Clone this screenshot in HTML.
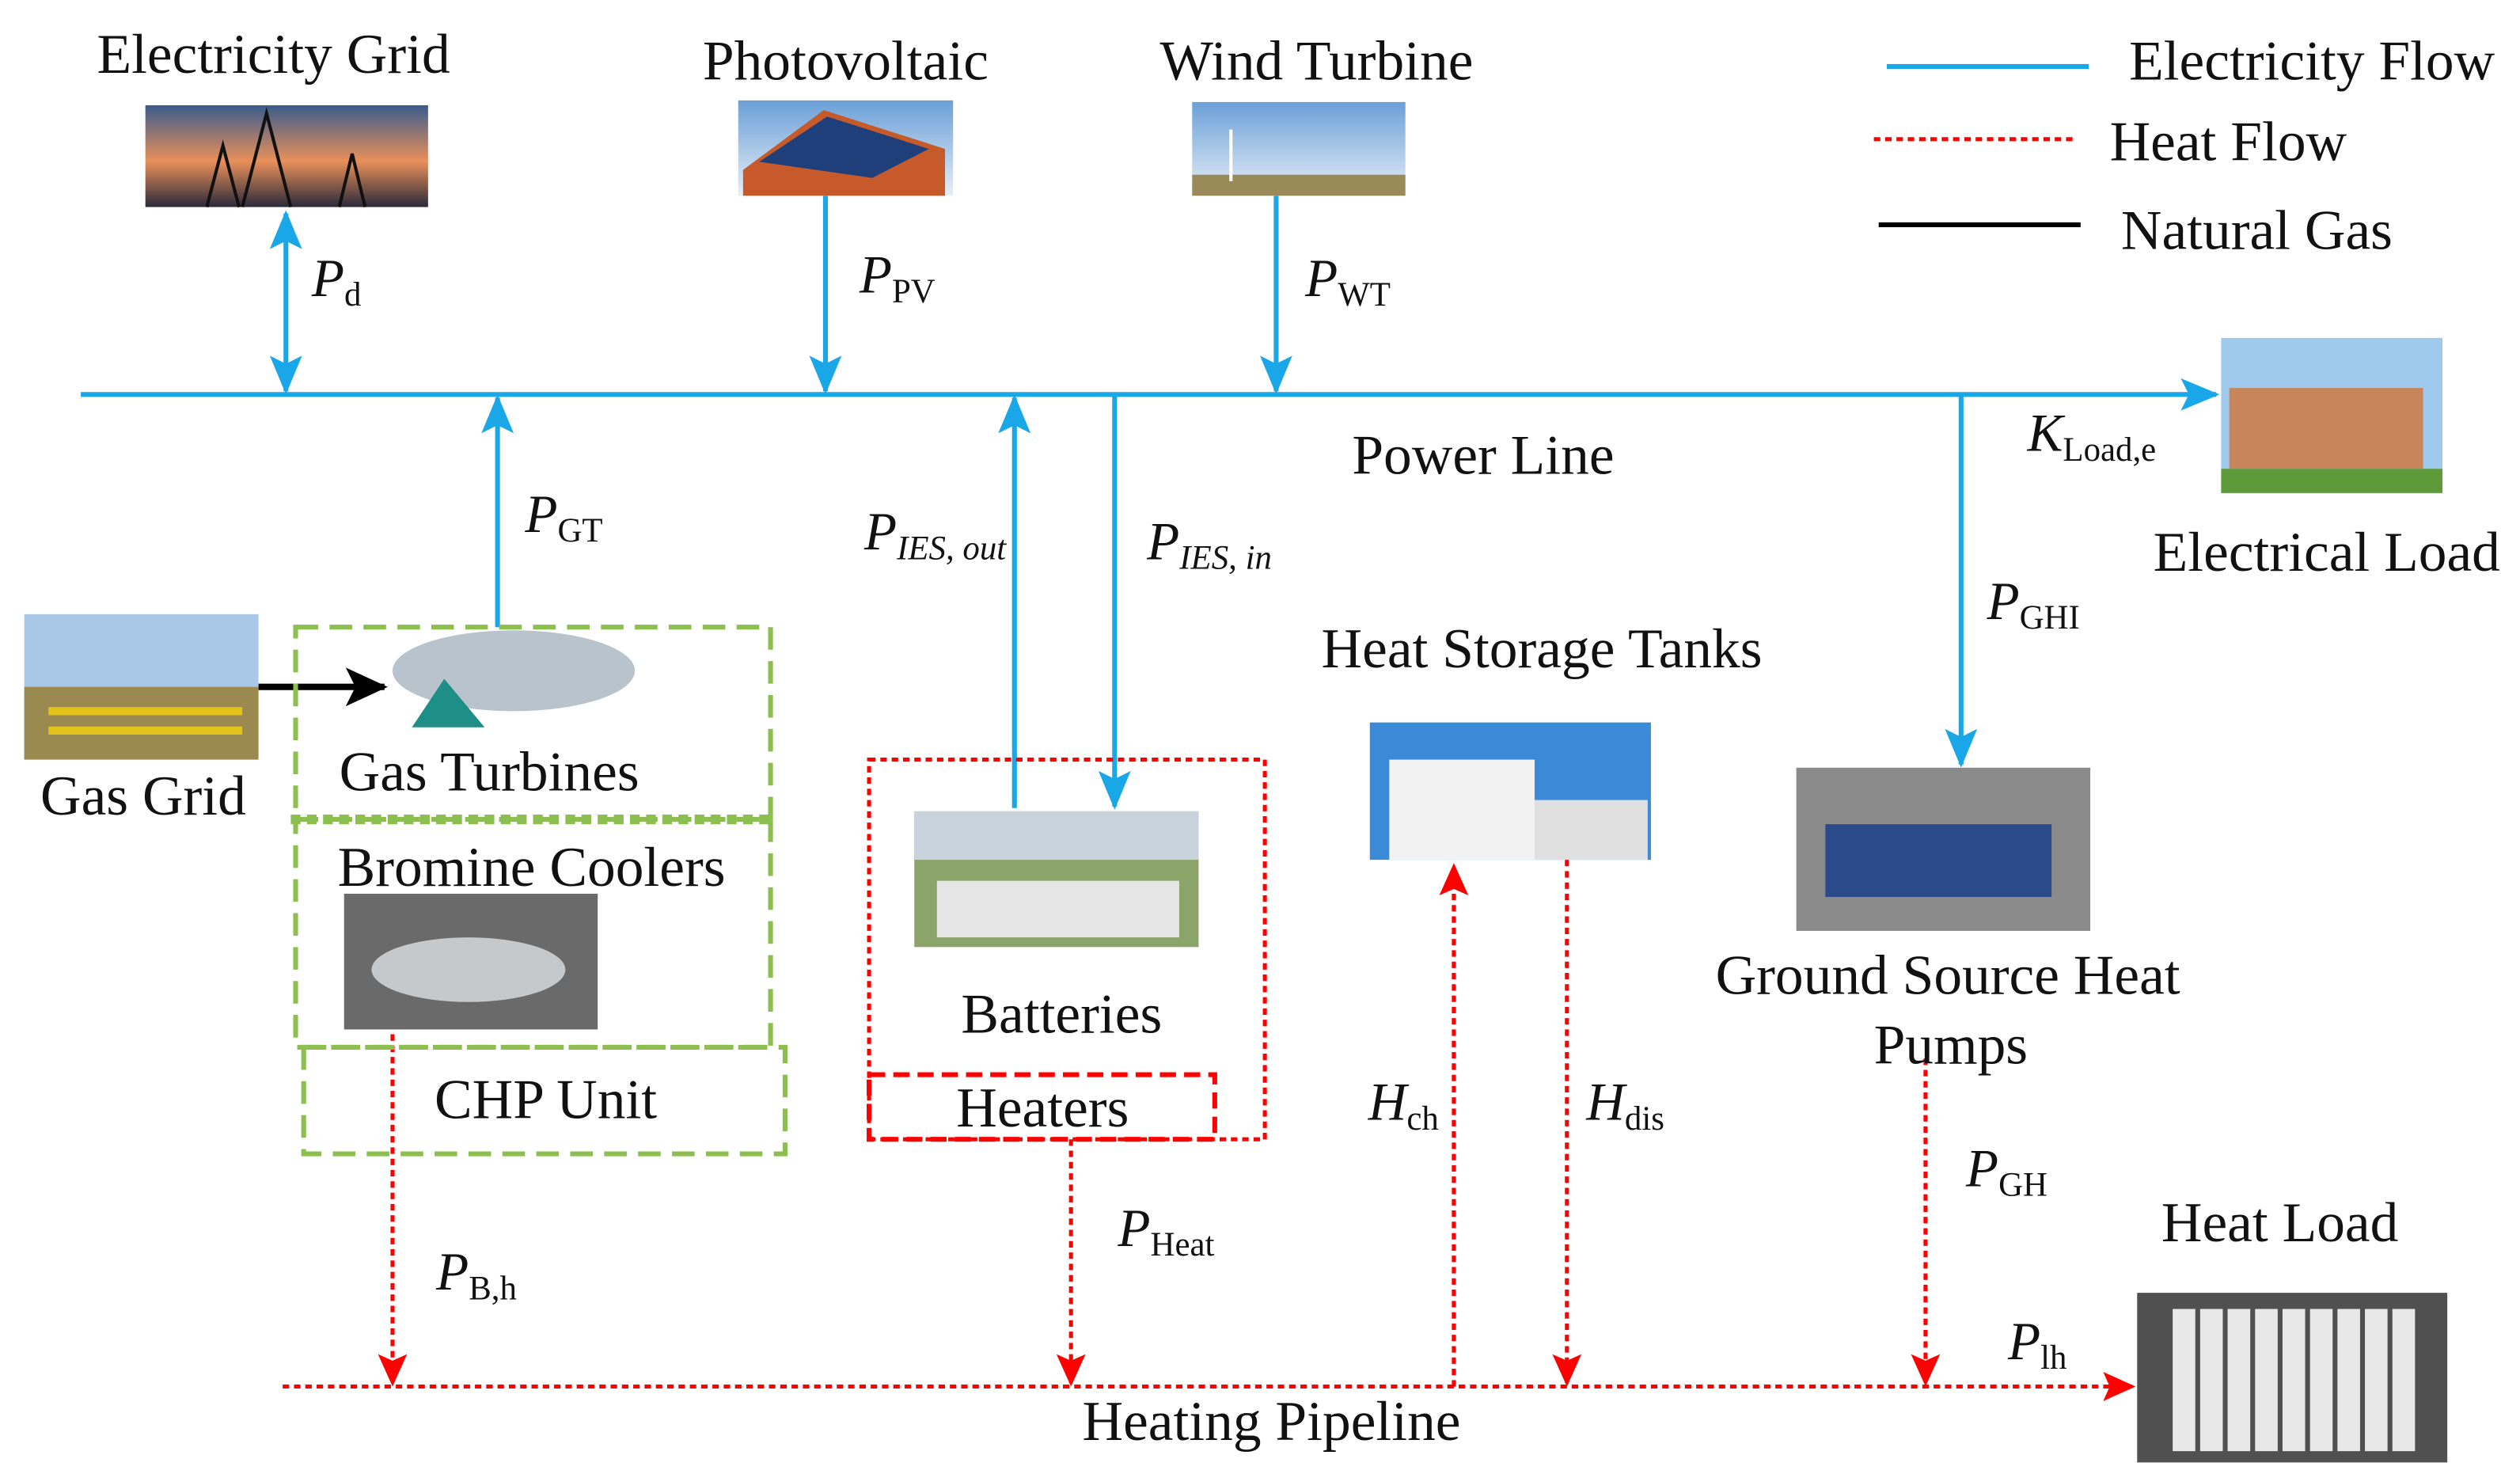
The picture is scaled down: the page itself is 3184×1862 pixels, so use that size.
<!DOCTYPE html>
<html><head><meta charset="utf-8"><style>
html,body{margin:0;padding:0;background:#fff}
svg{display:block}
text{font-family:"Liberation Serif",serif;fill:#111}
.t{font-size:35px}
.p{font-size:33px;font-style:italic}
.s{font-size:21px;font-style:normal}
.si{font-size:21px;font-style:italic}
</style></head><body>
<svg width="3184" height="1862" viewBox="0 0 1560 912" xmlns="http://www.w3.org/2000/svg">
<defs>
<marker id="abB" markerWidth="24" markerHeight="20" refX="22" refY="10" orient="auto-start-reverse" markerUnits="userSpaceOnUse"><path d="M0,0 L24,10 L0,20 L5,10 z" fill="#1aa7e8"/></marker>
<marker id="ar" markerWidth="20" markerHeight="18" refX="18" refY="9" orient="auto" markerUnits="userSpaceOnUse"><path d="M0,0 L20,9 L0,18 L4,9 z" fill="#f00"/></marker>
<marker id="ak" markerWidth="26" markerHeight="24" refX="24" refY="12" orient="auto" markerUnits="userSpaceOnUse"><path d="M0,0 L26,12 L0,24 L6,12 z" fill="#000"/></marker>
<linearGradient id="sun" x1="0" y1="0" x2="0" y2="1"><stop offset="0" stop-color="#3a5b8c"/><stop offset=".55" stop-color="#e9905a"/><stop offset="1" stop-color="#2a2a3a"/></linearGradient>
<linearGradient id="sky" x1="0" y1="0" x2="0" y2="1"><stop offset="0" stop-color="#6aa0d8"/><stop offset="1" stop-color="#e8eef5"/></linearGradient>
</defs>
<g stroke="#1aa7e8" stroke-width="3" fill="none">
<line x1="50" y1="244" x2="1372" y2="244" marker-end="url(#abB)"/>
<line x1="177" y1="132" x2="177" y2="242" marker-start="url(#abB)" marker-end="url(#abB)"/>
<line x1="511" y1="121" x2="511" y2="242" marker-end="url(#abB)"/>
<line x1="790" y1="121" x2="790" y2="242" marker-end="url(#abB)"/>
<line x1="308" y1="388" x2="308" y2="246" marker-end="url(#abB)"/>
<line x1="628" y1="500" x2="628" y2="246" marker-end="url(#abB)"/>
<line x1="690" y1="244" x2="690" y2="499" marker-end="url(#abB)"/>
<line x1="1214" y1="244" x2="1214" y2="473" marker-end="url(#abB)"/>
<line x1="1168" y1="41" x2="1293" y2="41"/>
</g>
<line x1="1160" y1="86" x2="1283" y2="86" stroke="#f00" stroke-width="2.5" stroke-dasharray="4,3"/>
<line x1="1163" y1="139" x2="1288" y2="139" stroke="#000" stroke-width="3"/>
<line x1="160" y1="425" x2="238" y2="425" stroke="#000" stroke-width="4" marker-end="url(#ak)"/>
<g stroke="#f00" stroke-width="2.5" stroke-dasharray="4,3" fill="none">
<line x1="175" y1="858" x2="1320" y2="858" marker-end="url(#ar)"/>
<line x1="243" y1="640" x2="243" y2="856" marker-end="url(#ar)"/>
<line x1="663" y1="705" x2="663" y2="856" marker-end="url(#ar)"/>
<line x1="900" y1="858" x2="900" y2="536" marker-end="url(#ar)"/>
<line x1="970" y1="532" x2="970" y2="856" marker-end="url(#ar)"/>
<line x1="1192" y1="655" x2="1192" y2="856" marker-end="url(#ar)"/>
<rect x="538" y="470" width="245" height="235"/>
</g>
<rect x="538" y="665" width="214" height="40" fill="none" stroke="#f00" stroke-width="3" stroke-dasharray="10,5"/>
<g fill="none" stroke="#8cbf4f" stroke-width="3" stroke-dasharray="14,7">
<rect x="183" y="388" width="294" height="119"/>
<rect x="183" y="507" width="294" height="141"/>
<rect x="188" y="648" width="298" height="66"/>
</g>
<line x1="180" y1="507" x2="480" y2="507" stroke="#8cbf4f" stroke-width="6" stroke-dasharray="6,4"/>
<rect x="90" y="65" width="175" height="63" fill="url(#sun)"/>
<path d="M150,128 L165,70 L180,128 M128,128 L138,90 L148,128 M210,128 L218,95 L226,128" stroke="#111" stroke-width="2" fill="none"/>
<rect x="457" y="62" width="133" height="59" fill="url(#sky)"/>
<path d="M460,105 L510,68 L585,92 L585,121 L460,121z" fill="#c75a2a"/>
<path d="M470,100 L512,72 L575,92 L540,110z" fill="#1f3f7a"/>
<rect x="738" y="63" width="132" height="58" fill="url(#sky)"/>
<rect x="738" y="108" width="132" height="13" fill="#9a8a5a"/>
<line x1="762" y1="80" x2="762" y2="112" stroke="#fff" stroke-width="2"/>
<rect x="1375" y="209" width="137" height="96" fill="#9fc9ec"/>
<rect x="1380" y="240" width="120" height="50" fill="#c9855a"/>
<rect x="1375" y="290" width="137" height="15" fill="#5f9a3a"/>
<rect x="15" y="380" width="145" height="90" fill="#a9c7e6"/>
<rect x="15" y="425" width="145" height="45" fill="#9a8a50"/>
<path d="M30,440 h120 M30,452 h120" stroke="#e3c21a" stroke-width="5"/>
<ellipse cx="318" cy="415" rx="75" ry="25" fill="#b8c3cc"/>
<path d="M255,450 L275,420 L300,450z" fill="#1d8f86"/>
<rect x="213" y="553" width="157" height="84" fill="#6a6a6a"/>
<ellipse cx="290" cy="600" rx="60" ry="20" fill="#c5c9cc"/>
<rect x="566" y="502" width="176" height="84" fill="#8aa46a"/>
<rect x="566" y="502" width="176" height="30" fill="#c9d3dc"/>
<rect x="580" y="545" width="150" height="35" fill="#e6e6e6"/>
<rect x="848" y="447" width="174" height="85" fill="#3a8ad8"/>
<rect x="860" y="470" width="90" height="62" fill="#f2f2f2"/>
<rect x="950" y="495" width="70" height="37" fill="#e0e0e0"/>
<rect x="1112" y="475" width="182" height="101" fill="#8a8a8a"/>
<rect x="1130" y="510" width="140" height="45" fill="#2a4a8a"/>
<rect x="1323" y="800" width="192" height="105" fill="#505050"/>
<g fill="#e8e8e8"><rect x="1345" y="810" width="14" height="88"/><rect x="1362" y="810" width="14" height="88"/><rect x="1379" y="810" width="14" height="88"/><rect x="1396" y="810" width="14" height="88"/><rect x="1413" y="810" width="14" height="88"/><rect x="1430" y="810" width="14" height="88"/><rect x="1447" y="810" width="14" height="88"/><rect x="1464" y="810" width="14" height="88"/><rect x="1481" y="810" width="14" height="88"/></g>
<text class="t" x="60" y="45">Electricity Grid</text>
<text class="t" x="435" y="49">Photovoltaic</text>
<text class="t" x="718" y="49">Wind Turbine</text>
<text class="t" x="1318" y="49">Electricity Flow</text>
<text class="t" x="1306" y="99">Heat Flow</text>
<text class="t" x="1313" y="154">Natural Gas</text>
<text class="t" x="837" y="293">Power Line</text>
<text class="t" x="1333" y="353">Electrical Load</text>
<text class="t" x="818" y="413">Heat Storage Tanks</text>
<text class="t" x="25" y="504">Gas Grid</text>
<text class="t" x="210" y="489">Gas Turbines</text>
<text class="t" x="209" y="548">Bromine Coolers</text>
<text class="t" x="269" y="692">CHP Unit</text>
<text class="t" x="595" y="639">Batteries</text>
<text class="t" x="592" y="697">Heaters</text>
<text class="t" x="1062" y="615">Ground Source Heat</text>
<text class="t" x="1160" y="658">Pumps</text>
<text class="t" x="1338" y="768">Heat Load</text>
<text class="t" x="670" y="891">Heating Pipeline</text>
<text class="p" x="193" y="183">P<tspan class="s" dy="6">d</tspan></text>
<text class="p" x="532" y="181">P<tspan class="s" dy="6">PV</tspan></text>
<text class="p" x="808" y="183">P<tspan class="s" dy="6">WT</tspan></text>
<text class="p" x="1255" y="279">K<tspan class="s" dy="6">Load,e</tspan></text>
<text class="p" x="325" y="329">P<tspan class="s" dy="6">GT</tspan></text>
<text class="p" x="535" y="340">P<tspan class="si" dy="6">IES, out</tspan></text>
<text class="p" x="710" y="346">P<tspan class="si" dy="6">IES, in</tspan></text>
<text class="p" x="1230" y="383">P<tspan class="s" dy="6">GHI</tspan></text>
<text class="p" x="847" y="693">H<tspan class="s" dy="6">ch</tspan></text>
<text class="p" x="982" y="693">H<tspan class="s" dy="6">dis</tspan></text>
<text class="p" x="1217" y="734">P<tspan class="s" dy="6">GH</tspan></text>
<text class="p" x="692" y="771">P<tspan class="s" dy="6">Heat</tspan></text>
<text class="p" x="270" y="798">P<tspan class="s" dy="6">B,h</tspan></text>
<text class="p" x="1243" y="841">P<tspan class="s" dy="6">lh</tspan></text>
</svg>
</body></html>
